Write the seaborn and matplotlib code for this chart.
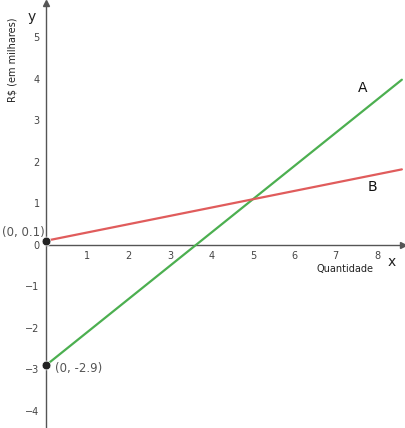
import matplotlib
matplotlib.use("Agg")
import matplotlib.pyplot as plt
import seaborn as sns
import numpy as np
import pandas as pd

# line A: y = 0.8x - 2.9 ; line B: y = 0.2x + 0.1
x_end = 8.6
slope_a, icpt_a = 0.8, -2.9
slope_b, icpt_b = 0.2, 0.1
x_ticks = [1, 2, 3, 4, 5, 6, 7, 8]
y_ticks = [-4, -3, -2, -1, 0, 1, 2, 3, 4, 5]
pts_x = [0, 0]
pts_y = [0.1, -2.9]

xs = np.array([0, x_end])
lines = pd.concat([
    pd.DataFrame({"x": xs, "y": slope_a * xs + icpt_a, "serie": "A"}),
    pd.DataFrame({"x": xs, "y": slope_b * xs + icpt_b, "serie": "B"}),
])

sns.set_style("white")
plt.rcParams["font.family"] = ["DejaVu Sans"]

fig = plt.figure(figsize=(4.06, 4.28), dpi=100)
ax = fig.add_axes([0, 0, 1, 1])
ax.set_xlim(-1.11, 8.7)
ax.set_ylim(-4.41, 5.9)

sns.lineplot(data=lines, x="x", y="y", hue="serie",
             palette={"A": "#4caf50", "B": "#e05c5c"},
             linewidth=1.6, legend=False, ax=ax, zorder=3)
sns.scatterplot(x=pts_x, y=pts_y, color="#222222", s=40, ax=ax, zorder=5)

# axes through origin
for s in ["top", "right"]:
    ax.spines[s].set_visible(False)
ax.spines["left"].set_position(("data", 0))
ax.spines["bottom"].set_position(("data", 0))
ax.spines["left"].set_bounds(-4.45, 5.8)
ax.spines["bottom"].set_bounds(0, 8.6)
for s in ["left", "bottom"]:
    ax.spines[s].set_color("#555555")
    ax.spines[s].set_linewidth(1.0)
ax.plot(8.62, 0, ">", color="#555555", markersize=4, clip_on=False)
ax.plot(0, 5.83, "^", color="#555555", markersize=4, clip_on=False)

ax.set_xticks(x_ticks)
ax.set_yticks(y_ticks)
ax.set_xticklabels([str(t) for t in x_ticks])
ax.set_yticklabels([str(t).replace("-", "\u2212") for t in y_ticks])
ax.tick_params(axis="both", direction="inout", length=3, width=0.8,
               color="#555555", labelsize=7, labelcolor="#444444", pad=3)
ax.set_xlabel("")
ax.set_ylabel("")

ax.text(-0.34, 5.5, "y", fontsize=10, ha="center", va="center", color="#222222")
ax.text(8.36, -0.42, "x", fontsize=10, ha="center", va="center", color="#222222")
ax.text(7.22, -0.58, "Quantidade", fontsize=7, ha="center", va="center", color="#222222")
ax.text(-0.82, 4.45, "R$ (em milhares)", fontsize=7, rotation=90,
        ha="center", va="center", color="#222222")
ax.text(7.66, 3.78, "A", fontsize=10, ha="center", va="center", color="#111111")
ax.text(7.9, 1.4, "B", fontsize=10, ha="center", va="center", color="#111111")
ax.text(-0.54, 0.3, "(0, 0.1)", fontsize=8.5, ha="center", va="center", color="#555555")
ax.text(0.22, -2.97, "(0, -2.9)", fontsize=8.5, ha="left", va="center", color="#555555")

fig.savefig("out.png", dpi=100)
